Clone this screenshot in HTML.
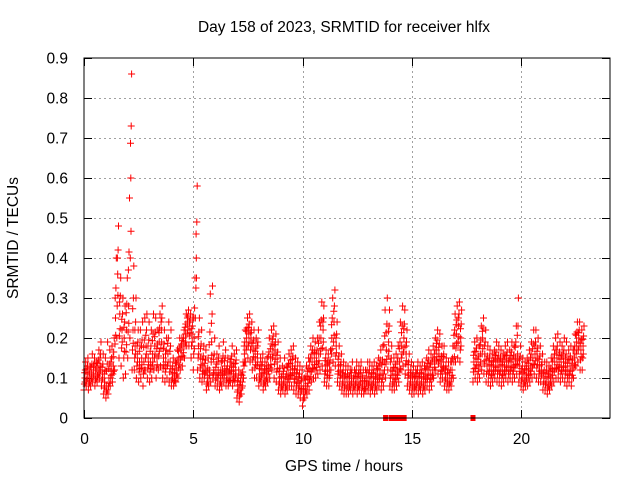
<!DOCTYPE html>
<html><head><meta charset="utf-8"><style>
body{margin:0;background:#fff;}
svg text{font-family:"Liberation Sans",sans-serif;font-size:15.5px;fill:#000;}
</style></head><body>
<svg id="chart" width="640" height="480" xmlns="http://www.w3.org/2000/svg">
<text x="344" y="32" text-anchor="middle">Day 158 of 2023, SRMTID for receiver hlfx</text>
<text transform="translate(18,238) rotate(-90)" text-anchor="middle">SRMTID / TECUs</text>
<text x="344" y="471" text-anchor="middle">GPS time / hours</text>
<g id="grid"></g>
<g id="ticks"></g>
<g id="points"></g>
<rect x="84" y="58" width="526" height="360" fill="none" stroke="#000" stroke-width="1"/>
</svg>
<script>
const xTicks=[0,5,10,15,20];
const xTickLabels=["0","5","10","15","20"];
const yTicks=[0,0.1,0.2,0.3,0.4,0.5,0.6,0.7,0.8,0.9];
const yTickLabels=["0","0.1","0.2","0.3","0.4","0.5","0.6","0.7","0.8","0.9"];
const slotStep=0.1;
const loVals=[.07,.08,.07,.08,.09,.08,.09,.10,.08,.06, .05,.06,.08,.09,.12,.20,.15,.13,.10,.11, .15,.20,.12,.12,.10,.09,.10,.08,.12,.10, .09,.10,.12,.10,.12,.13,.10,.09,.10,.09, .08,.08,.09,.10,.12,.13,.15,.18,.18,.15, .12,.25,.12,.10,.09,.10,.07,.08,.09,.10, .08,.08,.07,.08,.09,.08,.08,.09,.08,.09, .05,.04,.06,.10,.14,.15,.14,.12,.10,.10, .08,.09,.07,.08,.09,.10,.12,.10,.09,.07, .06,.07,.06,.07,.08,.08,.07,.06,.06,.05, .03,.05,.06,.07,.09,.10,.10,.11,.12,.13, .09,.08,.08,.12,.14,.13,.09,.08,.07,.06, .06,.06,.07,.06,.07,.06,.07,.06,.06,.07, .07,.06,.07,.06,.07,.08,.07,.08,.10,.12, .08,.07,.07,.08,.09,.12,.13,.11,.08,.07, .06,.06,.07,.06,.07,.06,.07,.08,.07,.08, .10,.12,.11,.09,.10,.08,.07,.07,.08,.10, .14,.15,.14,null,null,null,null,null,.09,.10, .09,.10,.12,.11,.09,.09,.08,.09,.10,.09, .09,.08,.09,.10,.09,.10,.09,.10,.11,.09, .08,.07,.08,.08,.09,.10,.11,.10,.09,.09, .07,.07,.06,.07,.08,.09,.10,.10,.09,.10, .09,.08,.09,.08,.10,.13,.14,.12,.12];
const midVals=[.10,.11,.10,.11,.12,.11,.12,.13,.11,.09, .08,.10,.12,.13,.25,.36,.26,.22,.20,.22, .28,.60,.22,.18,.16,.14,.15,.14,.18,.15, .14,.16,.18,.15,.19,.22,.15,.14,.16,.14, .11,.10,.12,.15,.17,.18,.21,.24,.23,.21, .20,.40,.18,.15,.13,.12,.10,.12,.19,.12, .11,.12,.10,.12,.13,.11,.10,.13,.11,.12, .08,.07,.09,.16,.20,.21,.20,.17,.15,.16, .11,.12,.10,.11,.13,.15,.18,.17,.14,.10, .09,.10,.09,.11,.12,.13,.11,.10,.09,.08, .06,.08,.10,.12,.14,.15,.14,.16,.20,.22, .13,.12,.12,.20,.24,.18,.13,.12,.10,.09, .09,.09,.10,.09,.10,.09,.10,.09,.08,.10, .10,.09,.10,.09,.11,.12,.11,.14,.17,.19, .12,.10,.11,.12,.14,.18,.20,.16,.12,.10, .09,.09,.10,.09,.10,.09,.11,.12,.11,.12, .14,.17,.16,.13,.14,.11,.10,.10,.12,.18, .21,.23,.20,null,null,null,null,null,.14,.15, .13,.16,.20,.16,.13,.13,.12,.13,.14,.13, .13,.12,.13,.14,.13,.14,.13,.15,.16,.13, .11,.10,.11,.12,.13,.15,.16,.15,.13,.12, .10,.10,.09,.10,.12,.14,.15,.14,.13,.14, .13,.12,.13,.12,.15,.19,.20,.17,.18];
const hiVals=[.14,.15,.13,.16,.15,.14,.17,.19,.16,.15, .19,.17,.18,.20,.40,.48,.35,.30,.28,.35, .55,.86,.38,.30,.22,.22,.24,.25,.26,.24, .22,.26,.25,.22,.26,.28,.22,.20,.24,.22, .15,.14,.17,.20,.20,.22,.26,.27,.26,.25, .35,.58,.25,.22,.18,.17,.15,.31,.33,.20, .16,.18,.14,.19,.17,.15,.14,.18,.16,.17, .12,.11,.14,.22,.25,.26,.24,.22,.20,.22, .15,.16,.14,.15,.20,.22,.23,.21,.19,.15, .13,.15,.13,.16,.17,.18,.15,.14,.13,.12, .10,.13,.15,.18,.20,.19,.20,.24,.29,.28, .17,.16,.17,.30,.32,.24,.18,.16,.14,.13, .13,.12,.14,.12,.14,.13,.14,.12,.12,.14, .14,.13,.14,.13,.15,.17,.18,.27,.30,.27, .18,.15,.16,.18,.24,.28,.27,.22,.16,.14, .13,.12,.14,.13,.14,.13,.15,.17,.16,.18, .20,.22,.21,.18,.18,.15,.14,.14,.18,.26, .28,.29,.27,null,null,null,null,null,.19,.20, .18,.23,.25,.22,.18,.17,.16,.17,.19,.18, .17,.16,.18,.19,.17,.19,.18,.23,.30,.18, .15,.14,.15,.17,.19,.22,.22,.20,.18,.16, .14,.14,.13,.15,.18,.20,.21,.19,.18,.20, .19,.17,.18,.17,.21,.24,.24,.22,.23];
const zeroTimes=[13.8,14.05,14.25,14.45,14.65,17.8];

const NS="http://www.w3.org/2000/svg";
const X0=84,X1=610,Y0=418,Y1=58,XMAX=24.07,YMAX=0.9;
function xs(v){return X0+(X1-X0)*v/XMAX;}
function ys(v){return Y0-(Y0-Y1)*v/YMAX;}
function mk(tag,attrs,parent){const e=document.createElementNS(NS,tag);for(const k in attrs)e.setAttribute(k,attrs[k]);parent.appendChild(e);return e;}
const grid=document.getElementById('grid'),ticks=document.getElementById('ticks'),pts=document.getElementById('points');
yTicks.forEach((v,i)=>{
  const y=Math.round(ys(v))+0.5;
  if(i>0&&i<yTicks.length-1){const g=mk('line',{x1:X0,x2:X1,y1:y,y2:y,stroke:'#a0a0a0','stroke-dasharray':'2,3'},grid);
  
  }
  const t1=mk('line',{x1:X0,x2:X0+8,y1:y,y2:y,stroke:'#000'},ticks);
  
  
  const t2=mk('line',{x1:X1-8,x2:X1,y1:y,y2:y,stroke:'#000'},ticks);
  
  
  const tx=mk('text',{x:X0-16,y:y+5,'text-anchor':'end'},ticks);tx.textContent=yTickLabels[i];
  
  
});
xTicks.forEach((v,i)=>{
  const x=Math.round(xs(v))+0.5;
  if(i>0){const g=mk('line',{x1:x,x2:x,y1:Y0,y2:Y1,stroke:'#a0a0a0','stroke-dasharray':'2,3'},grid);
  
  }
  const t1=mk('line',{x1:x,x2:x,y1:Y0,y2:Y0-8,stroke:'#000'},ticks);
  
  
  const t2=mk('line',{x1:x,x2:x,y1:Y1,y2:Y1+8,stroke:'#000'},ticks);
  
  
  const tx=mk('text',{x:x,y:Y0+26,'text-anchor':'middle'},ticks);tx.textContent=xTickLabels[i];
  
  
});
let d='';
function plus(t,v){const x=xs(t),y=ys(v);d+=`M${(x-3.5).toFixed(1)} ${y.toFixed(1)}h7M${x.toFixed(1)} ${(y-3.5).toFixed(1)}v7`;}
for(let i=0;i<midVals.length;i++){
  const lo=loVals[i],mi=midVals[i],hi=hiVals[i];
  if(mi==null)continue;
  const t=i*slotStep;
  plus(t,lo);plus(t+0.02,(lo+mi)/2);plus(t+0.04,mi);plus(t+0.06,(mi+hi)/2);plus(t+0.08,hi);
  plus(t+0.05,(lo+mi*2)/3);plus(t+0.03,(mi*2+hi)/3);
}
const p=mk('path',{d:d,stroke:'#ff0000','stroke-width':1,fill:'none'},pts);


zeroTimes.forEach(t=>{
  const r=mk('rect',{x:xs(t)-2.5,y:Y0-3,width:5,height:6,fill:'#ff0000'},pts);
  
  
});
</script>
</body></html>
